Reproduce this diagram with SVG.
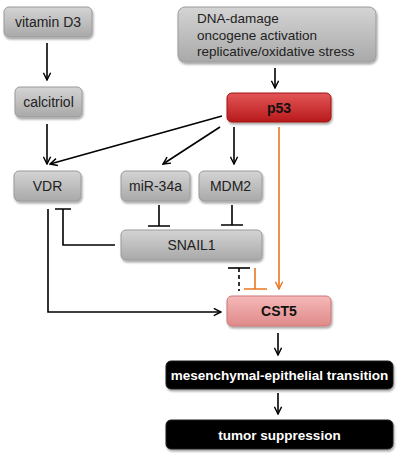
<svg xmlns="http://www.w3.org/2000/svg" width="400" height="461" viewBox="0 0 400 461">
<defs>
<linearGradient id="gGray" x1="0" y1="0" x2="0" y2="1"><stop offset="0" stop-color="#d4d4d4"/><stop offset="1" stop-color="#a9a9a9"/></linearGradient>
<linearGradient id="gRed" x1="0" y1="0" x2="0" y2="1"><stop offset="0" stop-color="#e35656"/><stop offset="1" stop-color="#b8191b"/></linearGradient>
<linearGradient id="gPink" x1="0" y1="0" x2="0" y2="1"><stop offset="0" stop-color="#f5b8b8"/><stop offset="1" stop-color="#e08a8a"/></linearGradient>
<filter id="sh" x="-10%" y="-10%" width="130%" height="140%"><feDropShadow dx="1" dy="2" stdDeviation="1.2" flood-color="#000" flood-opacity="0.35"/></filter>
<marker id="ah" viewBox="0 0 10 10" refX="9" refY="5" markerWidth="9" markerHeight="9" markerUnits="userSpaceOnUse" orient="auto"><path d="M1,1 L9,5 L1,9" fill="none" stroke="#000" stroke-width="1.6"/></marker>
<marker id="aho" viewBox="0 0 10 10" refX="9" refY="5" markerWidth="9" markerHeight="9" markerUnits="userSpaceOnUse" orient="auto"><path d="M1,1 L9,5 L1,9" fill="none" stroke="#e87722" stroke-width="1.6"/></marker>
</defs>
<style>
.gray{fill:url(#gGray);stroke:#9a9a9a;stroke-width:1;filter:url(#sh)}
.red{fill:url(#gRed);stroke:#a01010;stroke-width:1;filter:url(#sh)}
.pink{fill:url(#gPink);stroke:#c77;stroke-width:1;filter:url(#sh)}
.blk{fill:#000;stroke:#222;stroke-width:1;filter:url(#sh)}
.t{font-family:"Liberation Sans",Arial,sans-serif;font-size:14px;fill:#222;text-anchor:middle}
.tl{font-family:"Liberation Sans",Arial,sans-serif;font-size:13.5px;fill:#222}
.tb{font-family:"Liberation Sans",Arial,sans-serif;font-size:14px;font-weight:bold;fill:#111;text-anchor:middle}
.tw{font-family:"Liberation Sans",Arial,sans-serif;font-size:13.5px;font-weight:bold;fill:#fff;text-anchor:middle}
.c{fill:none;stroke:#000;stroke-width:1.6}
.o{fill:none;stroke:#e87722;stroke-width:1.6}
</style>
<g id="connectors">
<line class="c" x1="47" y1="43" x2="47" y2="80" marker-end="url(#ah)"/>
<line class="c" x1="47" y1="124" x2="47" y2="164" marker-end="url(#ah)"/>
<line class="c" x1="275" y1="68" x2="275" y2="88" marker-end="url(#ah)"/>
<line class="c" x1="222" y1="116" x2="50" y2="164" marker-end="url(#ah)"/>
<line class="c" x1="220" y1="127" x2="163" y2="164" marker-end="url(#ah)"/>
<line class="c" x1="234" y1="127" x2="234" y2="164" marker-end="url(#ah)"/>
<line class="o" x1="279" y1="127" x2="279" y2="289" marker-end="url(#aho)"/>
<path class="c" d="M159,205 V226 M148,226 H170"/>
<path class="c" d="M232,205 V225 M221,225 H243"/>
<path class="c" d="M115,245 H63 V209 M55,209 H71"/>
<path class="c" d="M48,209 V312 H221" marker-end="url(#ah)"/>
<path class="c" d="M239,268 V291" stroke-dasharray="4,3"/>
<path class="c" d="M228,268 H250"/>
<path class="o" d="M255,268 V289 M244,289 H267"/>
<line class="c" x1="278" y1="333" x2="278" y2="355" marker-end="url(#ah)"/>
<line class="c" x1="278" y1="393" x2="278" y2="414" marker-end="url(#ah)"/>
</g>
<g id="vitaminD3"><rect class="gray" x="4" y="7" width="88" height="30" rx="5"/><text class="t" x="48" y="27">vitamin D3</text></g>
<g id="calcitriol"><rect class="gray" x="15" y="87" width="67" height="30" rx="5"/><text class="t" x="48.5" y="107">calcitriol</text></g>
<g id="stress"><rect class="gray" x="178" y="7" width="198" height="55" rx="7"/>
<text class="tl" x="197" y="23">DNA-damage</text><text class="tl" x="197" y="39.5">oncogene activation</text><text class="tl" x="197" y="56">replicative/oxidative stress</text></g>
<g id="p53"><rect class="red" x="227" y="93" width="104" height="29" rx="5"/><text class="tb" x="279" y="112.5">p53</text></g>
<g id="VDR"><rect class="gray" x="14" y="171" width="67" height="30" rx="5"/><text class="t" x="47.5" y="191">VDR</text></g>
<g id="miR34a"><rect class="gray" x="121" y="171" width="69" height="30" rx="5"/><text class="t" x="155.5" y="191">miR-34a</text></g>
<g id="MDM2"><rect class="gray" x="199" y="171" width="63" height="30" rx="5"/><text class="t" x="230.5" y="191">MDM2</text></g>
<g id="SNAIL1"><rect class="gray" x="121" y="230" width="141" height="30" rx="5"/><text class="t" x="191.5" y="250">SNAIL1</text></g>
<g id="CST5"><rect class="pink" x="227" y="296" width="104" height="30" rx="5"/><text class="tb" x="279" y="316">CST5</text></g>
<g id="MET"><rect class="blk" x="166" y="361" width="227" height="28" rx="5"/><text class="tw" x="279.5" y="380">mesenchymal-epithelial transition</text></g>
<g id="tumor"><rect class="blk" x="166" y="420" width="227" height="29" rx="5"/><text class="tw" x="279.5" y="439.5">tumor suppression</text></g>
</svg>
